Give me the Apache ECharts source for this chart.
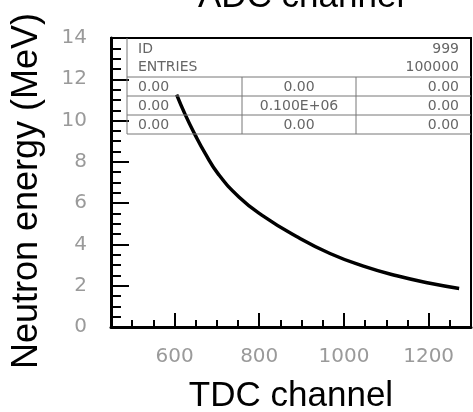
<!DOCTYPE html>
<html>
<head>
<meta charset="utf-8">
<script src="https://cdn.jsdelivr.net/npm/echarts@6/dist/echarts.min.js"></script>
<style>
html,body{margin:0;padding:0;background:#fff;}
#chart{width:473px;height:412px;}
</style>
</head>
<body>
<div id="chart"></div>
<script>
// ---- data ----
const tdcChannel = [605, 625, 648, 672, 703, 752, 806, 888, 967, 1046, 1125, 1203, 1272];
const neutronEnergy = [11.26, 10.3, 9.33, 8.42, 7.42, 6.3, 5.42, 4.38, 3.56, 2.95, 2.48, 2.12, 1.87];
const xMajorTicks = [600, 800, 1000, 1200];
const titleText = 'ADC channel';
const xName = 'TDC channel';
const yName = 'Neutron energy (MeV)';
// stats box texts
const statsHeader = [['ID', '999'], ['ENTRIES', '100000']];
const statsRows = [
  ['0.00', '0.00', '0.00'],
  ['0.00', '0.100E+06', '0.00'],
  ['0.00', '0.00', '0.00']
];

const chart = echarts.init(document.getElementById('chart'));

const tickFont = { fontFamily: 'DejaVu Sans', fontSize: 20, color: '#9a9a9a' };
const nameFont = { fontFamily: 'Liberation Sans, Arial, sans-serif', fontSize: 35, color: '#000' };
const boxFont = { fontFamily: 'DejaVu Sans', fontSize: 14, fill: '#666' };

// stats box layout (pixels)
const boxL = 127, boxR = 471, boxTop = 38;
const rowLines = [77, 96, 115, 134];
const colLines = [242, 356];
const textL = 138, textR = 459, textC = 299;
const headerY = [49, 67];

const graphics = [];
rowLines.forEach(y => graphics.push({ type: 'line', shape: { x1: boxL, y1: y, x2: boxR, y2: y }, style: { stroke: '#777', lineWidth: 1 }, z: 10 }));
graphics.push({ type: 'line', shape: { x1: boxL, y1: boxTop, x2: boxL, y2: rowLines[3] }, style: { stroke: '#777', lineWidth: 1 }, z: 10 });
colLines.forEach(x => graphics.push({ type: 'line', shape: { x1: x, y1: rowLines[0], x2: x, y2: rowLines[3] }, style: { stroke: '#777', lineWidth: 1 }, z: 10 }));
statsHeader.forEach((pair, i) => {
  graphics.push({ type: 'text', x: textL, y: headerY[i], style: Object.assign({ text: pair[0], textAlign: 'left', textVerticalAlign: 'middle' }, boxFont), z: 10 });
  graphics.push({ type: 'text', x: textR, y: headerY[i], style: Object.assign({ text: pair[1], textAlign: 'right', textVerticalAlign: 'middle' }, boxFont), z: 10 });
});
statsRows.forEach((row, i) => {
  const y = (rowLines[i] + rowLines[i + 1]) / 2 + 0.5;
  graphics.push({ type: 'text', x: textL, y: y, style: Object.assign({ text: row[0], textAlign: 'left', textVerticalAlign: 'middle' }, boxFont), z: 10 });
  graphics.push({ type: 'text', x: textC, y: y, style: Object.assign({ text: row[1], textAlign: 'center', textVerticalAlign: 'middle' }, boxFont), z: 10 });
  graphics.push({ type: 'text', x: textR, y: y, style: Object.assign({ text: row[2], textAlign: 'right', textVerticalAlign: 'middle' }, boxFont), z: 10 });
});

const option = {
  backgroundColor: '#fff',
  animation: false,
  title: {
    text: titleText,
    left: 193,
    top: -25,
    textStyle: { fontFamily: nameFont.fontFamily, fontSize: 35, fontWeight: 'normal', color: '#000' }
  },
  grid: {
    left: 111, right: 2, top: 38, bottom: 85,
    outerBoundsMode: 'none', containLabel: false,
    show: true, borderColor: '#000', borderWidth: 2, backgroundColor: 'transparent'
  },
  xAxis: [
    {
      type: 'value', min: 450, max: 1300, interval: 50, position: 'bottom',
      name: xName, nameLocation: 'middle', nameGap: 52,
      nameTextStyle: nameFont,
      axisLine: { show: true, lineStyle: { color: '#000', width: 3 } },
      axisTick: { show: true, inside: true, length: 14, customValues: xMajorTicks, lineStyle: { color: '#000', width: 2 } },
      axisLabel: { show: true, margin: 20, customValues: xMajorTicks, formatter: v => String(v), ...tickFont },
      splitLine: { show: false }
    },
    {
      type: 'value', min: 450, max: 1300, interval: 50, position: 'bottom',
      axisLine: { show: false },
      axisTick: { show: true, inside: true, length: 7, lineStyle: { color: '#000', width: 2 } },
      axisLabel: { show: false },
      splitLine: { show: false }
    }
  ],
  yAxis: {
    type: 'value', min: 0, max: 14, interval: 2,
    name: yName, nameLocation: 'middle', nameGap: 66, nameRotate: 90,
    nameTextStyle: Object.assign({ padding: [0, 17, 0, 0] }, nameFont, { fontSize: 36 }),
    axisLine: { show: true, lineStyle: { color: '#000', width: 3 } },
    axisTick: { show: true, inside: true, length: 18, lineStyle: { color: '#000', width: 2 } },
    minorTick: { show: true, splitNumber: 4, length: 10, lineStyle: { color: '#000', width: 2 } },
    axisLabel: { margin: 24, ...tickFont },
    splitLine: { show: false },
    minorSplitLine: { show: false }
  },
  series: [{
    type: 'line',
    xAxisIndex: 0,
    data: tdcChannel.map((x, i) => [x, neutronEnergy[i]]),
    smooth: 0.5,
    showSymbol: false,
    lineStyle: { color: '#000', width: 3.5 },
    z: 5
  }],
  graphic: graphics
};
chart.setOption(option);
</script>
</body>
</html>
